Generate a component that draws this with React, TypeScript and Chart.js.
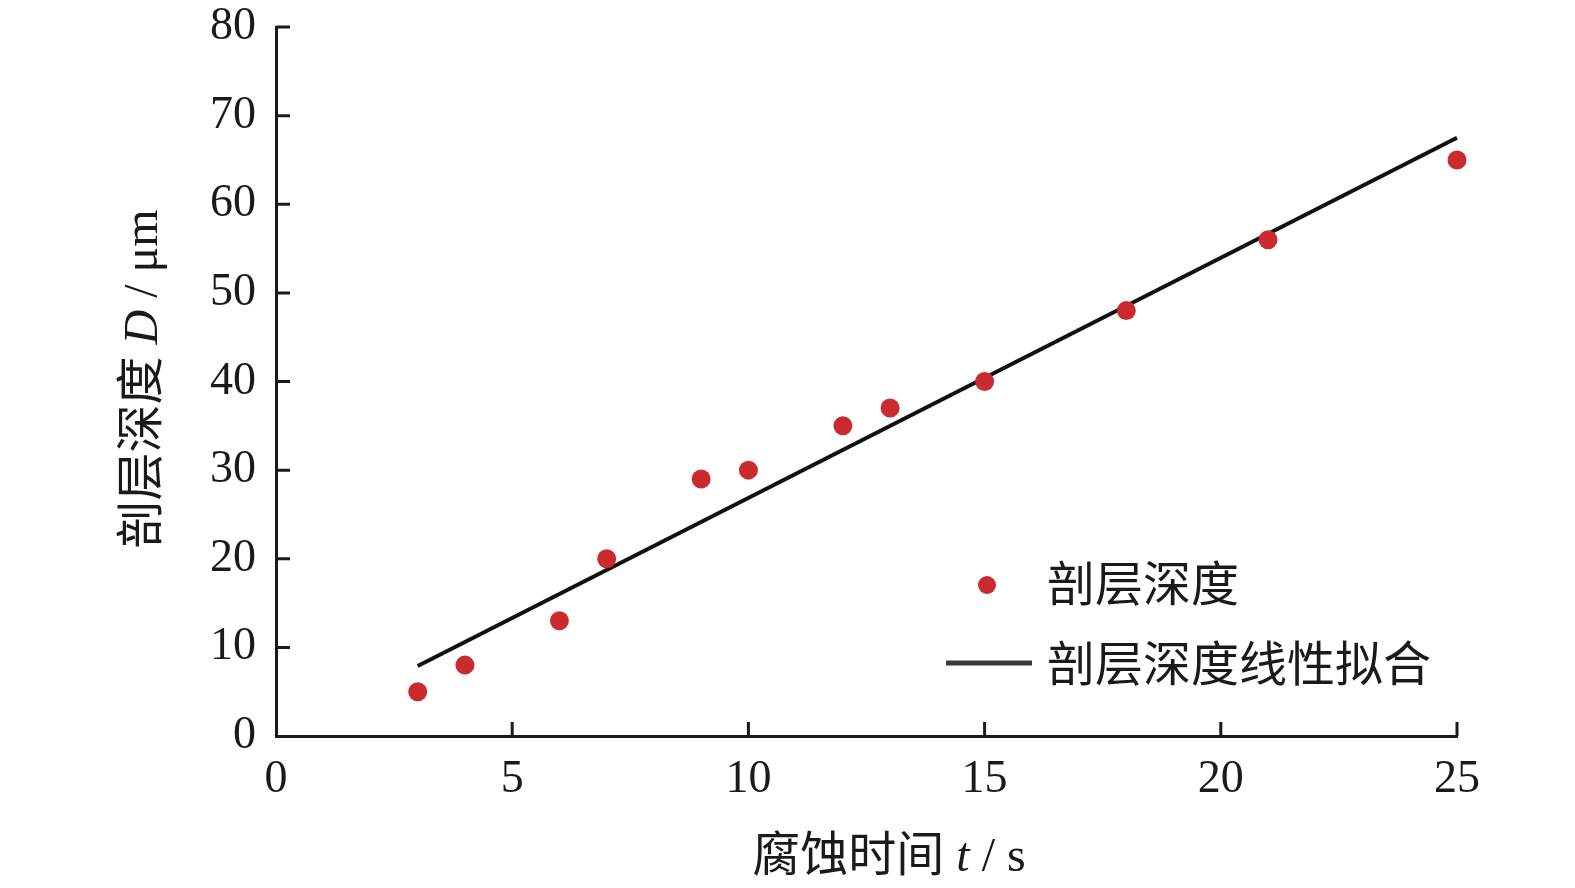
import React, { useEffect, useRef } from "react";
import { Chart, registerables } from "chart.js";

Chart.register(...registerables);

const timeValues = [3, 4, 6, 7, 9, 10, 12, 13, 15, 18, 21, 25];
const depthValues = [5, 8, 13, 20, 29, 30, 35, 37, 40, 48, 56, 65];
const fitX = [3, 25];
const fitY = [7.9, 67.5];
const xTicks = [0, 5, 10, 15, 20, 25];
const yTicks = [0, 10, 20, 30, 40, 50, 60, 70, 80];

const pointLabel = "剖层深度";
const fitLabel = "剖层深度线性拟合";
const xTitle = [
  { t: "腐蚀时间 ", i: false },
  { t: "t", i: true },
  { t: " / s", i: false },
];
const yTitle = [
  { t: "剖层深度 ", i: false },
  { t: "D", i: true },
  { t: " / μm", i: false },
];

const FAM = '"Liberation Serif", "Noto Sans CJK SC", serif';
const RED = "#cb2a2f";

function drawMixed(ctx: CanvasRenderingContext2D, segs: { t: string; i: boolean }[], cx: number, cy: number, size: number) {
  const fonts = segs.map((s) => `${s.i ? "italic " : ""}${size}px ${FAM}`);
  let total = 0;
  const widths = segs.map((s, k) => {
    ctx.font = fonts[k];
    const w = ctx.measureText(s.t).width;
    total += w;
    return w;
  });
  let x = cx - total / 2;
  ctx.textBaseline = "middle";
  ctx.textAlign = "left";
  segs.forEach((s, k) => {
    ctx.font = fonts[k];
    ctx.fillText(s.t, x, cy);
    x += widths[k];
  });
}

const decorPlugin = {
  id: "decor",
  afterDraw(chart: any) {
    const ctx: CanvasRenderingContext2D = chart.ctx;
    const xs = chart.scales.x;
    const ys = chart.scales.y;
    const area = chart.chartArea;
    ctx.save();
    // inward ticks
    ctx.strokeStyle = "#1a1a1a";
    ctx.lineWidth = 3;
    ctx.beginPath();
    xTicks.forEach((v) => {
      if (v === 0) return;
      const px = xs.getPixelForValue(v);
      ctx.moveTo(px, area.bottom);
      ctx.lineTo(px, area.bottom - 14);
    });
    yTicks.forEach((v) => {
      if (v === 0) return;
      const py = ys.getPixelForValue(v);
      ctx.moveTo(area.left, py);
      ctx.lineTo(area.left + 14, py);
    });
    ctx.stroke();
    // axis titles
    ctx.fillStyle = "#1a1a1a";
    drawMixed(ctx, xTitle, 889, 858, 48);
    ctx.save();
    ctx.translate(144, 379);
    ctx.rotate(-Math.PI / 2);
    drawMixed(ctx, yTitle, 0, 0, 48);
    ctx.restore();
    // legend
    ctx.fillStyle = RED;
    ctx.beginPath();
    ctx.arc(987, 585, 9, 0, Math.PI * 2);
    ctx.fill();
    ctx.strokeStyle = "#3a3a3a";
    ctx.lineWidth = 5;
    ctx.beginPath();
    ctx.moveTo(946, 663);
    ctx.lineTo(1032, 663);
    ctx.stroke();
    ctx.fillStyle = "#1a1a1a";
    ctx.font = `48px ${FAM}`;
    ctx.textAlign = "left";
    ctx.textBaseline = "middle";
    ctx.fillText(pointLabel, 1047, 588);
    ctx.fillText(fitLabel, 1047, 668);
    ctx.restore();
  },
};

export default function App() {
  const ref = useRef<HTMLCanvasElement>(null);
  useEffect(() => {
    document.body.style.margin = "0";
    const chart = new Chart(ref.current as HTMLCanvasElement, {
      type: "scatter",
      data: {
        datasets: [
          {
            label: pointLabel,
            data: timeValues.map((x, k) => ({ x, y: depthValues[k] })),
            backgroundColor: RED,
            borderColor: RED,
            pointRadius: 9.5,
            pointBorderWidth: 0,
            clip: false,
          } as any,
          {
            label: fitLabel,
            data: fitX.map((x, k) => ({ x, y: fitY[k] })),
            showLine: true,
            borderColor: "#111111",
            borderWidth: 4,
            pointRadius: 0,
            clip: false,
          } as any,
        ],
      },
      options: {
        animation: false,
        responsive: false,
        maintainAspectRatio: false,
        layout: { padding: { top: 27, right: 118, left: 0, bottom: 0 } },
        plugins: { legend: { display: false }, tooltip: { enabled: false } },
        scales: {
          x: {
            type: "linear",
            min: 0,
            max: 25,
            afterBuildTicks: (s: any) => {
              s.ticks = xTicks.map((v) => ({ value: v }));
            },
            afterFit: (s: any) => {
              s.height = 888 - 736;
              s.paddingLeft = 0;
              s.paddingRight = 0;
            },
            grid: { display: true, drawOnChartArea: false, drawTicks: false },
            border: { display: true, color: "#1a1a1a", width: 3 },
            ticks: { padding: 16, color: "#1a1a1a", font: { family: FAM, size: 46 }, maxRotation: 0 },
          },
          y: {
            type: "linear",
            min: 0,
            max: 80,
            afterBuildTicks: (s: any) => {
              s.ticks = yTicks.map((v) => ({ value: v }));
            },
            afterFit: (s: any) => {
              s.width = 276;
              s.paddingTop = 0;
              s.paddingBottom = 0;
            },
            grid: { display: true, drawOnChartArea: false, drawTicks: false },
            border: { display: true, color: "#1a1a1a", width: 3 },
            ticks: { padding: 20, color: "#1a1a1a", font: { family: FAM, size: 46 } },
          },
        },
      },
      plugins: [decorPlugin],
    });
    return () => chart.destroy();
  }, []);
  return (
    <div style={{ width: 1575, height: 888, background: "#fff" }}>
      <canvas ref={ref} width={1575} height={888} />
    </div>
  );
}
